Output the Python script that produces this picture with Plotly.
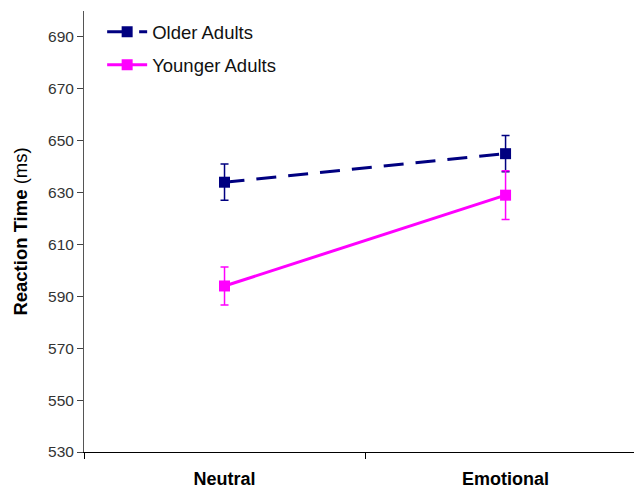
import plotly.graph_objects as go

categories = ["Neutral", "Emotional"]
older = [634, 645]
older_err = [7, 7]
younger = [594, 629]
younger_err = [7.3, 9.4]
y_ticks = [530, 550, 570, 590, 610, 630, 650, 670, 690]

fig = go.Figure()
fig.add_trace(go.Scatter(
    x=categories, y=older, name="Older Adults", mode="lines+markers",
    legendgroup="a",
    line=dict(color="#000080", width=3, dash="20px,12px"),
    marker=dict(symbol="square", size=11, color="#000080"),
    error_y=dict(type="data", array=older_err, color="#000080", thickness=1.5, width=4),
))
fig.add_trace(go.Scatter(
    x=categories, y=younger, name="Younger Adults", mode="lines+markers",
    legendgroup="b",
    line=dict(color="#FF00FF", width=3),
    marker=dict(symbol="square", size=11, color="#FF00FF"),
    error_y=dict(type="data", array=younger_err, color="#FF00FF", thickness=1.5, width=4),
))

fig.update_layout(
    width=634, height=489,
    margin=dict(l=84, r=0, t=11, b=37),
    paper_bgcolor="white", plot_bgcolor="white",
    font=dict(family="Liberation Sans, Arial, sans-serif", color="#222"),
    showlegend=True,
    legend=dict(x=0.033, y=0.995, xanchor="left", yanchor="top",
                font=dict(size=18.5, color="#111"), bgcolor="rgba(0,0,0,0)",
                tracegroupgap=6, itemwidth=40),
)
fig.update_xaxes(
    type="category", range=[-0.5, 1.457], tickson="boundaries",
    ticks="outside", ticklen=6, tickcolor="black", automargin=False,
    showline=True, linecolor="black", linewidth=1, showgrid=False,
    tickfont=dict(size=18, color="black", family="Liberation Sans, Arial, sans-serif"),
    tickprefix="<b>", ticksuffix="</b>", ticklabelstandoff=10,
)
fig.update_yaxes(
    range=[530, 700], tickvals=y_ticks, automargin=False,
    ticks="outside", ticklen=6, tickcolor="#444",
    showline=True, linecolor="#555", linewidth=1, showgrid=False, zeroline=False,
    tickfont=dict(size=15.5, color="#333"),
    title=dict(text="<b>Reaction Time</b> (ms)", font=dict(size=18.5, color="black")),
)
fig.write_html("out.html", config={"displayModeBar": False},
               post_script="document.body.style.margin='0';document.body.style.overflow='hidden';")
